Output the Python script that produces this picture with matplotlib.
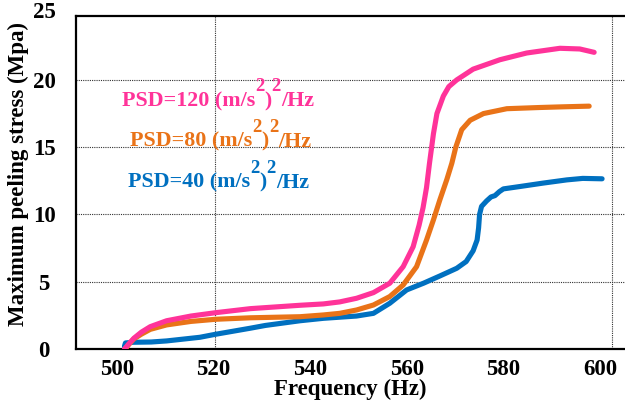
import matplotlib
matplotlib.use("Agg")
import matplotlib.pyplot as plt

# ---- data ----
freq_pink = [501.60, 502.42, 503.55, 505.09, 506.94, 510.32, 515.35, 520.48, 527.66, 537.92,
             542.74, 546.12, 549.61, 553.10, 556.48, 559.25, 561.31, 562.54, 563.36, 564.08,
             564.69, 565.51, 566.23, 567.56, 568.69, 570.33, 573.72, 579.26, 584.80, 591.67,
             595.77, 598.75]
stress_pink = [0.0, 0.35, 0.8, 1.25, 1.66, 2.1, 2.45, 2.7, 3.0, 3.25,
               3.35, 3.5, 3.77, 4.19, 4.89, 6.12, 7.6, 9.2, 10.5, 12.0,
               13.8, 16.0, 17.5, 18.8, 19.5, 20.0, 20.8, 21.5, 22.0, 22.35,
               22.3, 22.05]

freq_orange = [501.60, 502.42, 503.55, 505.09, 506.94, 510.32, 515.35, 520.48, 527.66, 537.92,
               542.74, 546.12, 549.61, 553.10, 556.48, 559.25, 562.02, 564.08, 565.51, 566.85,
               568.28, 569.31, 570.13, 571.36, 573.10, 575.87, 580.69, 587.57, 592.29, 597.72]
stress_orange = [-0.1, 0.3, 0.75, 1.1, 1.46, 1.79, 2.05, 2.21, 2.32, 2.4,
                 2.53, 2.65, 2.9, 3.27, 3.9, 4.76, 6.12, 8.1, 9.6, 11.1,
                 12.6, 13.8, 15.0, 16.3, 17.0, 17.5, 17.86, 17.95, 18.0, 18.05]

freq_blue = [501.60, 501.81, 503.45, 507.14, 510.32, 517.19, 520.37, 527.56, 530.74, 537.92,
             542.74, 549.61, 553.10, 556.48, 559.97, 563.46, 566.85, 570.33, 572.28, 573.72,
             574.54, 574.85, 575.05, 575.46, 576.49, 577.41, 578.23, 579.16, 579.98, 583.46,
             588.18, 593.11, 596.39, 600.39]
stress_blue = [0.2, 0.45, 0.5, 0.52, 0.6, 0.87, 1.09, 1.54, 1.75, 2.1,
               2.28, 2.45, 2.65, 3.4, 4.39, 4.89, 5.43, 6.0, 6.5, 7.3,
               8.1, 9.0, 10.0, 10.6, 11.0, 11.3, 11.4, 11.7, 11.9, 12.08,
               12.33, 12.57, 12.68, 12.65]

x_ticks = [500, 520, 540, 560, 580, 600]
x_grid = [520.4, 602.5]
y_ticks = [0, 5, 10, 15, 20]
y_extra_tick = 25

labels = ["PSD=120 (m/s", "PSD=80 (m/s", "PSD=40 (m/s"]

PINK = "#FF3399"
ORANGE = "#E97318"
BLUE = "#0070C0"
SERIF = "Liberation Serif"

W, H = 625, 405
fig = plt.figure(figsize=(W / 100, H / 100), dpi=100)
ax = fig.add_axes([76 / W, (H - 349) / H, (W - 76) / W, (349 - 16) / H])

lw = 3.7
ax.plot(freq_blue, stress_blue, color=BLUE, lw=lw, solid_capstyle="round",
        solid_joinstyle="round", zorder=3)
ax.plot(freq_orange, stress_orange, color=ORANGE, lw=lw, solid_capstyle="round",
        solid_joinstyle="round", zorder=4)
ax.plot(freq_pink, stress_pink, color=PINK, lw=lw, solid_capstyle="round",
        solid_joinstyle="round", zorder=5)

ax.set_xlim(491.58, 605.13)
ax.set_ylim(0, 24.75)

ax.set_xticks(x_ticks)
ax.set_xticklabels([str(v) for v in x_ticks])
ax.set_xticks(x_grid, minor=True)
ax.set_yticks(y_ticks)
ax.set_yticklabels([str(v) for v in y_ticks])

grid_kw = dict(color="#333333", linestyle=(0, (1, 1)), linewidth=0.8)
ax.grid(which="minor", axis="x", **grid_kw)
ax.grid(which="major", axis="y", **grid_kw)
ax.set_axisbelow(True)

ax.tick_params(which="both", length=0)
ax.tick_params(axis="x", pad=7, labelsize=16.5)
ax.tick_params(axis="y", pad=23, labelsize=16.5)
for lab in ax.get_xticklabels() + ax.get_yticklabels():
    lab.set_fontfamily(SERIF)
    lab.set_fontweight("bold")
for lab in ax.get_yticklabels():
    lab.set_ha("center")

ax.text((44 - 76) / (W - 76), y_extra_tick, str(y_extra_tick),
        transform=ax.get_yaxis_transform(), ha="center", va="center",
        fontsize=16.5, fontweight="bold", family=SERIF, clip_on=False)

for side in ["left", "bottom", "top"]:
    ax.spines[side].set_linewidth(1.6)
    ax.spines[side].set_color("black")
ax.spines["right"].set_visible(False)

fig.text(350 / W, 1 - 389 / H, "Frequency (Hz)", ha="center", va="center",
         fontsize=16.5, fontweight="bold", family=SERIF)
fig.text(18 / W, 1 - 174 / H, "Maximum peeling stress (Mpa)", ha="center",
         va="center", rotation=90, fontsize=16.5, fontweight="bold", family=SERIF)

# coloured series labels built from pieces (large superscripts)
renderer = fig.canvas.get_renderer()
FS = 15.8
SUP_FS = 13.5
SUP_RAISE = 15
placements = [(122, 106, PINK), (130, 146.7, ORANGE), (128, 187.7, BLUE)]
for text, (x0, yb, col) in zip(labels, placements):
    pieces = [(text, False), ("2", True), (")", False), ("2", True), ("/Hz", False)]
    x = x0
    for piece, sup in pieces:
        y_img = yb - (SUP_RAISE if sup else 0)
        t = fig.text(x / W, 1 - y_img / H, piece, ha="left", va="baseline",
                     fontsize=SUP_FS if sup else FS, fontweight="bold",
                     family=SERIF, color=col)
        bb = t.get_window_extent(renderer)
        x = bb.x1

fig.savefig("out.png", dpi=100)
